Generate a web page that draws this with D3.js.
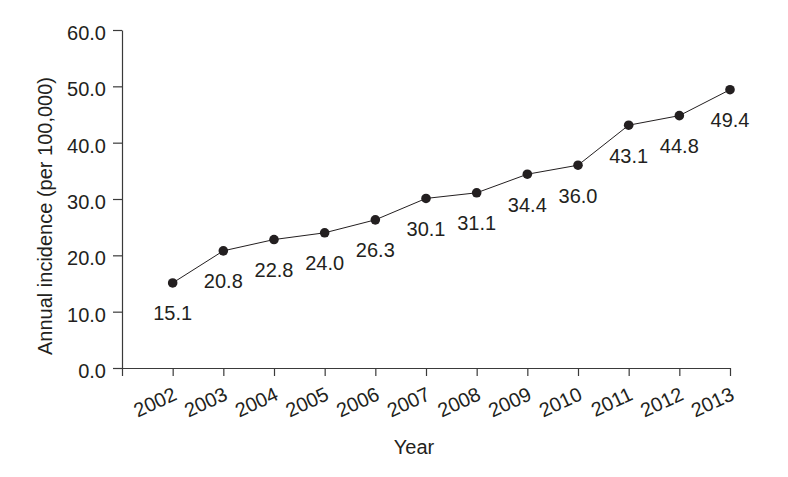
<!DOCTYPE html>
<html>
<head>
<meta charset="utf-8">
<script src="https://cdn.jsdelivr.net/npm/d3@7"></script>
<style>
  body { margin: 0; background: #fff; }
  svg text { font-family: "Liberation Sans", Arial, Helvetica, sans-serif; fill: #231f20; }
  .axis path, .axis line { stroke: #3a3a3a; stroke-width: 1.2; }
</style>
</head>
<body>
<div id="chart-area"></div>
<script>
const years = [2002, 2003, 2004, 2005, 2006, 2007, 2008, 2009, 2010, 2011, 2012, 2013];
const incidence = [15.1, 20.8, 22.8, 24.0, 26.3, 30.1, 31.1, 34.4, 36.0, 43.1, 44.8, 49.4];
const yTicks = [0, 10, 20, 30, 40, 50, 60];

const chart = { width: 788, height: 477 };
const margin = { top: 30, right: 58, left: 122, bottom: 109 };
const height = chart.height - (margin.top + margin.bottom);
const width = chart.width - (margin.left + margin.right);

const data = years.map((y, i) => ({ year: y, value: incidence[i] }));

const x = d3.scaleLinear().domain([2001, 2013]).range([0, width]);
const y = d3.scaleLinear().domain([0, 60]).range([height, 0]);

const svg = d3
  .select("#chart-area")
  .append("svg")
  .attr("width", chart.width)
  .attr("height", chart.height);

const g = svg
  .append("g")
  .attr("transform", `translate(${margin.left}, ${margin.top})`);

// y axis
const yAxis = d3
  .axisLeft(y)
  .tickValues(yTicks)
  .tickFormat(d3.format(".1f"))
  .tickSize(9)
  .tickSizeOuter(0)
  .tickPadding(7);

g.append("g").attr("class", "axis y-axis").call(yAxis);

// x axis (tick at 2001 sits on the y axis corner, no label)
const xAxis = d3
  .axisBottom(x)
  .tickValues([2001].concat(years))
  .tickFormat(d => (d === 2001 ? "" : d))
  .tickSize(8)
  .tickSizeOuter(0);

g.append("g")
  .attr("class", "axis x-axis")
  .attr("transform", `translate(0, ${height})`)
  .call(xAxis);

g.selectAll(".axis text").style("font-size", "20px").attr("fill", "#231f20");
g.selectAll(".y-axis text").attr("dy", "0.47em");

g.selectAll(".x-axis text")
  .style("font-size", "20px")
  .attr("text-anchor", "end")
  .attr("transform", "translate(5, 31) rotate(-25)")
  .attr("x", 0)
  .attr("y", 0)
  .attr("dy", 0);

// axis titles
g.append("text")
  .text("Year")
  .attr("x", 292)
  .attr("y", height + 86)
  .attr("text-anchor", "middle")
  .style("font-size", "20px");

g.append("text")
  .text("Annual incidence (per 100,000)")
  .attr("transform", "rotate(-90)")
  .attr("x", -186)
  .attr("y", -70.5)
  .attr("text-anchor", "middle")
  .style("font-size", "20px");

// line
const line = d3
  .line()
  .x(d => x(d.year))
  .y(d => y(d.value));

g.append("path")
  .datum(data)
  .attr("d", line)
  .attr("fill", "none")
  .attr("stroke", "#231f20")
  .attr("stroke-width", 1);

// points
g.selectAll("circle")
  .data(data)
  .enter()
  .append("circle")
  .attr("cx", d => x(d.year))
  .attr("cy", d => y(d.value))
  .attr("r", 4.8)
  .attr("fill", "#231f20");

// value labels
g.selectAll(".val")
  .data(data)
  .enter()
  .append("text")
  .attr("class", "val")
  .attr("x", d => x(d.year))
  .attr("y", d => y(d.value) + 37.5)
  .attr("text-anchor", "middle")
  .style("font-size", "20px")
  .text(d => d3.format(".1f")(d.value));
</script>
</body>
</html>
